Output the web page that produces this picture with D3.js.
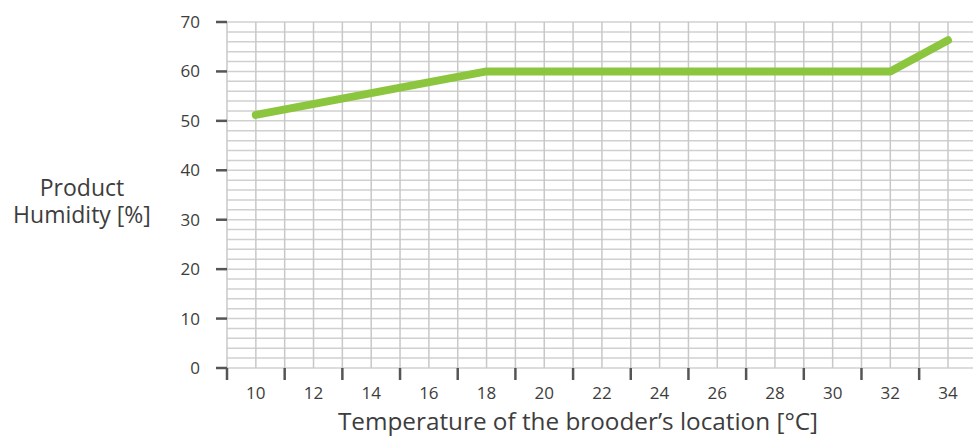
<!DOCTYPE html>
<html><head><meta charset="utf-8">
<script src="https://cdn.jsdelivr.net/npm/d3@7"></script>
<style>body{margin:0;background:#fff}svg{display:block}text{font-family:"Open Sans",sans-serif;fill:#3d3d3d}</style>
</head><body>
<svg id="c" width="973" height="436"></svg>
<script>
const temps = [10, 18, 32, 34];
const humidity = [51.2, 60, 60, 66.3];
const xLabels = [10,12,14,16,18,20,22,24,26,28,30,32,34];
const yLabels = [0,10,20,30,40,50,60,70];
const xTitle = "Temperature of the brooder\u2019s location [°C]";
const yTitle = ["Product", "Humidity [%]"];

const svg = d3.select("#c");
const x = d3.scaleLinear().domain([9, 34]).range([227, 948]);
const y = d3.scaleLinear().domain([0, 70]).range([368, 22]);
const xRight = 973;

const g = svg.append("g");
g.selectAll("line.h").data(d3.range(0, 71, 2)).join("line")
  .attr("x1", x(9)).attr("x2", xRight).attr("y1", d=>y(d)).attr("y2", d=>y(d))
  .attr("stroke", "#d0d0d0").attr("stroke-width", 1.5);
g.selectAll("line.v").data(d3.range(9, 35, 1)).join("line")
  .attr("x1", d=>x(d)).attr("x2", d=>x(d)).attr("y1", y(0)).attr("y2", y(70))
  .attr("stroke", "#c8c8c8").attr("stroke-width", 1.5);

g.selectAll("line.yt").data(yLabels).join("line")
  .attr("x1", x(9)-11).attr("x2", x(9)).attr("y1", d=>y(d)).attr("y2", d=>y(d))
  .attr("stroke", "#555").attr("stroke-width", 2.5);
g.selectAll("text.yl").data(yLabels).join("text")
  .attr("x", 200).attr("y", d=>y(d)).attr("dy", "0.35em").attr("text-anchor", "end")
  .attr("font-size", 17).text(d=>d);

g.selectAll("line.xt").data(d3.range(9, 34, 2)).join("line")
  .attr("x1", d=>x(d)).attr("x2", d=>x(d)).attr("y1", y(0)).attr("y2", y(0)+12)
  .attr("stroke", "#555").attr("stroke-width", 2.5);
g.selectAll("text.xl").data(xLabels).join("text")
  .attr("x", d=>x(d)).attr("y", 399).attr("text-anchor", "middle")
  .attr("font-size", 17).text(d=>d);

const line = d3.line().x(d=>x(d[0])).y(d=>y(d[1]));
svg.append("path").datum(temps.map((t,i)=>[t, humidity[i]]))
  .attr("d", line).attr("fill", "none").attr("stroke", "#8cc63f")
  .attr("stroke-width", 8).attr("stroke-linecap", "round").attr("stroke-linejoin", "round");

svg.append("text").attr("x", 578).attr("y", 430).attr("text-anchor", "middle")
  .attr("font-size", 24.3).text(xTitle);
svg.selectAll("text.yt").data(yTitle).join("text")
  .attr("x", 82).attr("y", (d,i)=> 196 + i*27).attr("text-anchor", "middle")
  .attr("font-size", 23).text(d=>d);
</script>
</body></html>
